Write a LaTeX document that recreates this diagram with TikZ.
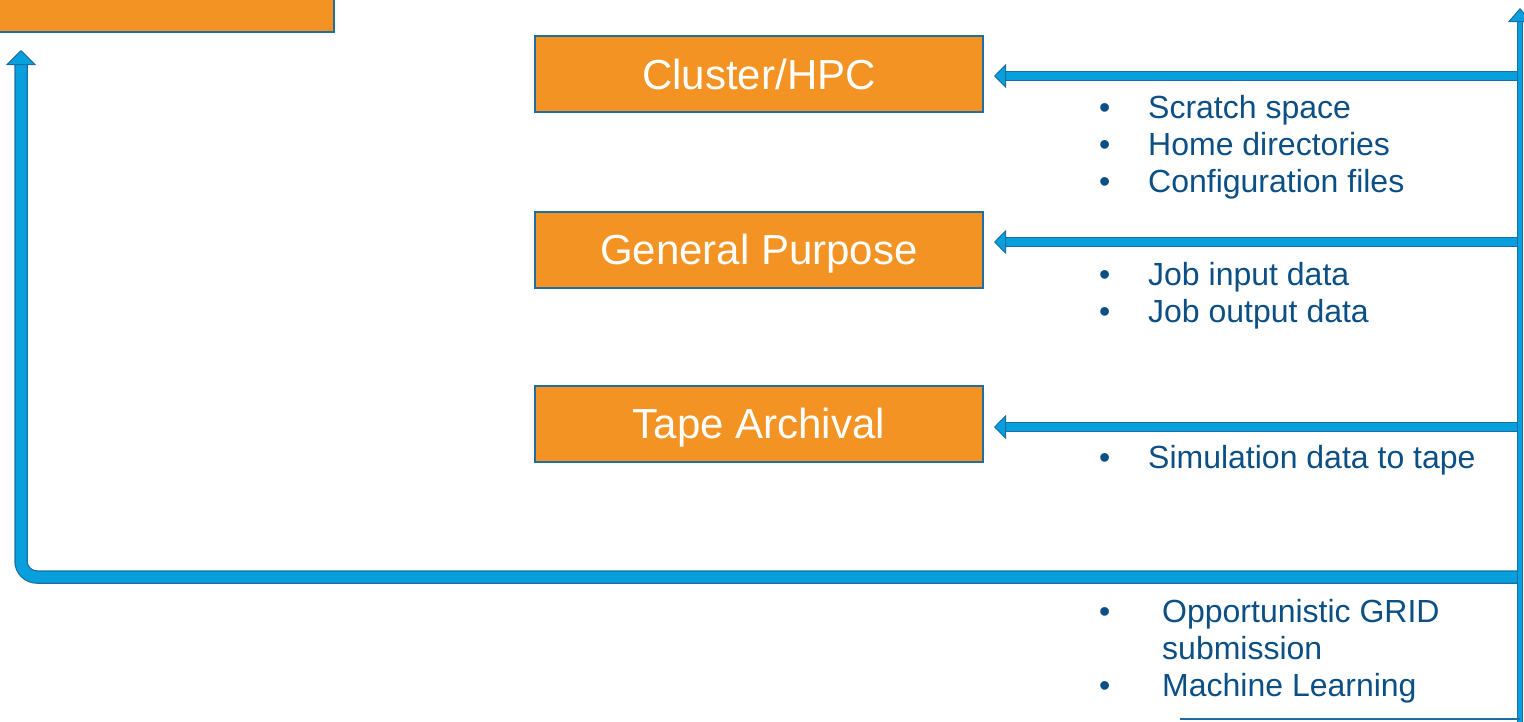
\documentclass[tikz,border=0pt]{standalone}
\usepackage{fontspec}
\setmainfont{Liberation Sans}
\usetikzlibrary{arrows.meta,calc}
\definecolor{boxorange}{HTML}{F39323}
\definecolor{boxline}{HTML}{1F6E9E}
\definecolor{arrowfill}{HTML}{08A0DC}
\definecolor{arrowline}{HTML}{1A6EA3}
\definecolor{listblue}{HTML}{0B4F85}
\tikzset{
  box/.style={draw=boxline, fill=boxorange, line width=2pt, minimum width=448pt,
    minimum height=76pt, inner sep=0pt, text=white, text height=30pt, text depth=0pt,
    font=\fontsize{42}{50}\selectfont},
  flow/.style={line width=8pt, draw=arrowfill,
    preaction={draw=arrowline, line width=10pt, -, shorten >=11pt},
    -{Triangle[length=12pt,width=24pt,line width=1pt,fill=arrowfill,color=arrowline]}},
  bigflow/.style={line width=11pt, draw=arrowfill, rounded corners=16pt,
    preaction={draw=arrowline, line width=13.5pt, -, shorten >=14pt},
    -{Triangle[length=15pt,width=30pt,line width=1pt,fill=arrowfill,color=arrowline]}},
  busflow/.style={line width=4.5pt, draw=arrowfill,
    preaction={draw=arrowline, line width=6.5pt, -, shorten >=13pt},
    -{Triangle[length=14pt,width=24pt,line width=1pt,fill=arrowfill,color=arrowline]}},
  blist/.style={anchor=base west, inner sep=0pt, align=left, text=listblue,
    font=\fontsize{32}{37}\selectfont},
}
\newcommand{\bitem}[1]{\makebox[49pt][l]{•}#1}
\newcommand{\bitemw}[1]{\makebox[63pt][l]{•}#1}
\begin{document}
\begin{tikzpicture}[x=1pt,y=-1pt]
\useasboundingbox (0,0) rectangle (1524,721);
% boxes
\node[box, anchor=south east, minimum width=420pt, minimum height=90pt] (topbox) at (335,33) {};
\node[box] (hpc) at (759,74) {Cluster/HPC};
\node[box] (gp) at (759,249.5) {General Purpose};
\node[box] (tape) at (759,423.5) {Tape Archival};
% bus coordinates
\coordinate (bus0) at (1520,740);
\coordinate (bustop) at (1520,8);
\coordinate (b1) at (1520,76);
\coordinate (b2) at (1520,242);
\coordinate (b3) at (1520,427);
\coordinate (b4) at (1520,577);
\coordinate (corner) at (21,577);
\coordinate (leftup) at (21,50);
\coordinate (lineA) at (1180,719);
\coordinate (lineB) at (1520,719);
% connectors
\draw[flow] (b1) -- ($(hpc.east |- b1)+(10,0)$);
\draw[flow] (b2) -- ($(gp.east |- b2)+(10,0)$);
\draw[flow] (b3) -- ($(tape.east |- b3)+(10,0)$);
\draw[bigflow] (b4) -- (corner) -- (leftup);
\draw[busflow] (bus0) -- (bustop);
\draw[arrowline, line width=1.5pt] (lineA) -- (lineB);
% lists (anchored at the baseline of the last line)
\node[blist] (l1) at (1099,192) {\bitem{Scratch space}\\\bitem{Home directories}\\\bitem{Configuration files}};
\node[blist] (l2) at (1099,322) {\bitem{Job input data}\\\bitem{Job output data}};
\node[blist] (l3) at (1099,468) {\bitem{Simulation data to tape}};
\node[blist] (l4) at (1099,696) {\bitemw{Opportunistic GRID}\\\hspace*{63pt}submission\\\bitemw{Machine Learning}};
\end{tikzpicture}
\end{document}
